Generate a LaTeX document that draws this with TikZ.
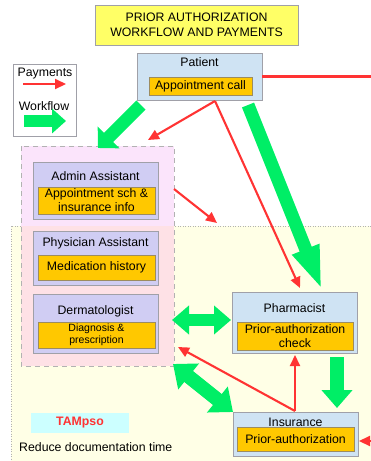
\documentclass[tikz,border=0pt]{standalone}
\usepackage{fontspec}
\setmainfont{Liberation Sans}
\usetikzlibrary{arrows.meta}

\definecolor{titleyellow}{HTML}{FFFF66}
\definecolor{bgyellow}{HTML}{FFFFE6}
\definecolor{grouppink}{HTML}{FBE4FB}
\definecolor{overlappink}{HTML}{FEE1E6}
\definecolor{bluefill}{HTML}{CFE3F3}
\definecolor{rolefill}{HTML}{D0CDF3}
\definecolor{tagfill}{HTML}{FFC800}
\definecolor{boxline}{HTML}{A0A0A8}
\definecolor{tagline}{HTML}{9C8C60}
\definecolor{payred}{HTML}{FF3333}
\definecolor{flowgreen}{HTML}{00EE66}
\definecolor{cyanfill}{HTML}{CCFFFF}

\tikzset{
  box/.style={draw=boxline, line width=0.8pt, inner sep=0pt},
  rolebox/.style={box, minimum width=125pt},
  tag/.style={draw=tagline, line width=0.7pt, fill=tagfill, inner sep=0pt, align=center},
  label/.style={inner sep=0pt, anchor=center},
  pay/.style={draw=payred, line width=2.1pt, -{Triangle[length=11pt,width=10pt]}},
  payline/.style={draw=payred, line width=2.1pt},
  flow/.style n args={3}{draw=flowgreen, line width=#1,
    -{Triangle[length=#3,width=#2]}},
  flowboth/.style n args={3}{draw=flowgreen, line width=#1,
    {Triangle[length=#3,width=#2]}-{Triangle[length=#3,width=#2]}},
}

\begin{document}
\begin{tikzpicture}[x=1pt, y=-1pt, font=\fontsize{12.3}{14}\selectfont]
\useasboundingbox (0,0) rectangle (371,461);

% shaded practice region
\fill[bgyellow] (11,226) rectangle (371,461);
\draw[gray!60, line width=0.8pt, dash pattern=on 1pt off 1.5pt] (371,226) -- (11,226) -- (11,461);

% clinic staff group
\fill[grouppink] (21,146) rectangle (174,226);
\fill[overlappink] (21,226) rectangle (174,366);
\draw[gray!60, line width=0.8pt, dash pattern=on 5pt off 4pt] (21,146) rectangle (174,366);

% title
\node[box, fill=titleyellow, minimum width=203pt, minimum height=40pt, align=center,
      font=\fontsize{12.3}{15}\selectfont] (title) at (196.5,25)
  {PRIOR AUTHORIZATION\\WORKFLOW AND PAYMENTS};

% legend
\node[box, fill=white, minimum width=63pt, minimum height=72pt] (legend) at (44.5,100) {};
\node[label] (paylabel) at (45,74) {Payments};
\node[label] (flowlabel) at (44,106) {Workflow};
\coordinate (payA) at (23,84);
\coordinate (payB) at (66,84);
\coordinate (flowA) at (24,121);
\coordinate (flowB) at (66,121);
\draw[pay] (payA) -- (payB);
\draw[flow={12pt}{24pt}{14pt}] (flowA) -- (flowB);

% patient
\node[rolebox, fill=bluefill, minimum height=47pt] (patient) at (199.5,76.5) {};
\node[label] (patientlabel) at (199.5,62) {Patient};
\node[tag, minimum width=103pt, minimum height=18pt] (patienttag) at (200.5,86) {Appointment call};

% admin assistant
\node[rolebox, fill=rolefill, minimum height=57pt] (admin) at (95.5,190.5) {};
\node[label] (adminlabel) at (95.5,176) {Admin Assistant};
\node[tag, minimum width=117pt, minimum height=27pt] (admintag) at (96.5,200.5)
  {Appointment sch \&\\insurance info};

% physician assistant
\node[rolebox, fill=rolefill, minimum height=54pt] (physician) at (95.5,258) {};
\node[label] (physicianlabel) at (95.5,243) {Physician Assistant};
\node[tag, minimum width=117pt, minimum height=25pt] (physiciantag) at (96.5,267.5)
  {Medication history};

% dermatologist
\node[rolebox, fill=rolefill, minimum height=59pt] (derm) at (95.5,323.5) {};
\node[label] (dermlabel) at (95.5,311) {Dermatologist};
\node[tag, minimum width=117pt, minimum height=26pt, font=\fontsize{10.5}{11.5}\selectfont]
  (dermtag) at (96.5,335) {Diagnosis \&\\prescription};

% pharmacist
\node[rolebox, fill=bluefill, minimum height=61pt] (pharm) at (294.5,322.5) {};
\node[label] (pharmlabel) at (294.5,308) {Pharmacist};
\node[tag, minimum width=116pt, minimum height=28pt, font=\fontsize{12.3}{13.5}\selectfont]
  (pharmtag) at (295,336) {Prior-authorization\\check};

% insurance
\node[rolebox, fill=bluefill, minimum height=44pt] (ins) at (295.5,434) {};
\node[label] (inslabel) at (295.5,422) {Insurance};
\node[tag, minimum width=117pt, minimum height=24pt] (instag) at (295.5,439) {Prior-authorization};

% tool note
\node[fill=cyanfill, minimum width=98pt, minimum height=20pt, inner sep=0pt,
      text=payred, font=\fontsize{12.3}{14}\selectfont\bfseries] (tampso) at (80,423) {TAMpso};
\node[label, anchor=west] (note) at (19,447) {Reduce documentation time};

% connector end points
\coordinate (edgeR) at (371,0);
\coordinate (pfork) at (215,101);
\coordinate (adminin) at (148,140);
\coordinate (pharmin) at (300,288);
\coordinate (adminout) at (174,189);
\coordinate (practicein) at (217,223);
\coordinate (insfork) at (295,411);
\coordinate (pharmbot) at (295,355);
\coordinate (dermin) at (178,347);
\coordinate (insright) at (371,441);
\coordinate (insrighttip) at (359,441);
\coordinate (gA) at (141,105);
\coordinate (gB) at (98,148);
\coordinate (gC) at (248,105);
\coordinate (gD) at (322,290);
\coordinate (gE) at (172,320);
\coordinate (gF) at (231,320);
\coordinate (gG) at (173,364);
\coordinate (gH) at (233,412);
\coordinate (gI) at (337,357);
\coordinate (gJ) at (337,408);

% workflow arrows
\draw[flow={13pt}{30pt}{15pt}] (gA) -- (gB);
\draw[flow={13pt}{26pt}{44pt}] (gC) -- (gD);
\draw[flowboth={12pt}{28pt}{17pt}] (gE) -- (gF);
\draw[flowboth={14pt}{32pt}{20pt}] (gG) -- (gH);
\draw[flow={14pt}{30pt}{18pt}] (gI) -- (gJ);

% payment arrows
\draw[payline] (patient.east) -- (patient.east -| edgeR);
\draw[pay] (pfork) -- (adminin);
\draw[pay] (pfork) -- (pharmin);
\draw[pay] (adminout) -- (practicein);
\draw[pay] (insfork) -- (pharmbot);
\draw[pay] (insfork) -- (dermin);
\draw[pay] (insright) -- (insrighttip);
\end{tikzpicture}
\end{document}
